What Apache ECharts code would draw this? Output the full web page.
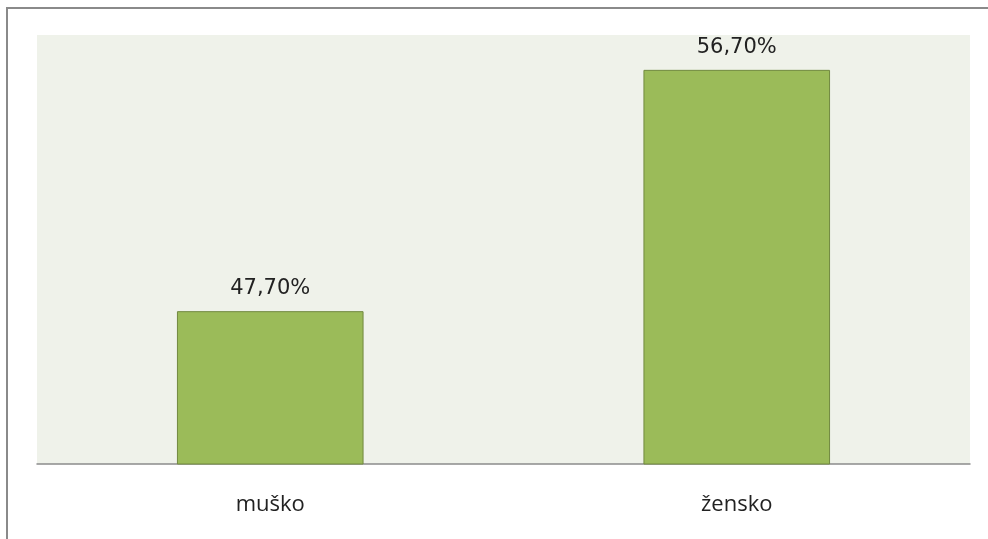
<!DOCTYPE html>
<html>
<head>
<meta charset="utf-8">
<script src="https://cdn.jsdelivr.net/npm/echarts@6/dist/echarts.min.js"></script>
<style>
  html, body { margin: 0; padding: 0; background: #fff; }
  #chart { width: 988px; height: 539px; }
</style>
</head>
<body>
<div id="chart"></div>
<script>
// podaci
const categories = ['muško', 'žensko']
const values = [47.7, 56.7]

const chart = echarts.init(document.getElementById('chart'))

function formatPct(v) {
  return v.toFixed(2).replace('.', ',') + '%'
}

chart.setOption({
  backgroundColor: '#ffffff',
  animation: false,
  graphic: [
    {
      type: 'rect',
      shape: { x: 7, y: 8, width: 1000, height: 560 },
      style: { fill: 'none', stroke: '#8a8a8a', lineWidth: 2 },
      z: -1,
    },
  ],
  grid: {
    left: 37,
    right: 18,
    top: 35,
    bottom: 75,
    show: true,
    backgroundColor: '#eff2ea',
    borderWidth: 0,
  },
  xAxis: {
    type: 'category',
    data: categories,
    axisTick: { show: false },
    axisLine: { lineStyle: { color: '#8c8c8c', width: 1.5 } },
    axisLabel: {
      margin: 30,
      fontFamily: 'Open Sans',
      fontSize: 22,
      color: '#222',
    },
  },
  yAxis: {
    type: 'value',
    min: 42,
    max: 58,
    interval: 2,
    show: false,
    splitLine: { show: false },
  },
  series: [
    {
      type: 'bar',
      data: values,
      barWidth: '40%',
      itemStyle: {
        color: '#9bbb59',
        borderColor: '#71893f',
        borderWidth: 1,
      },
      label: {
        show: true,
        position: 'top',
        distance: 12,
        formatter: (p) => formatPct(p.value),
        fontFamily: 'DejaVu Sans',
        fontSize: 21,
        color: '#222',
      },
    },
  ],
})
</script>
</body>
</html>
